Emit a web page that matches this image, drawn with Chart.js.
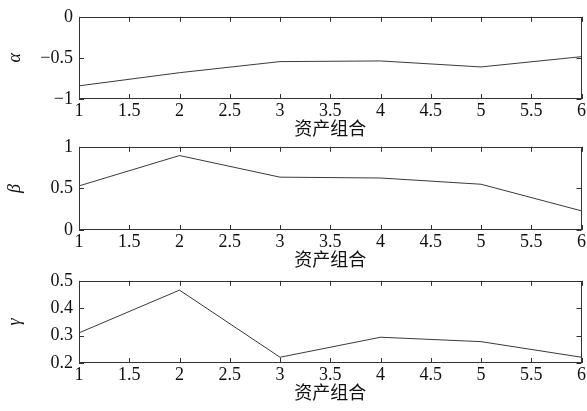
<!DOCTYPE html>
<html>
<head>
<meta charset="utf-8">
<script src="https://cdn.jsdelivr.net/npm/chart.js@4"></script>
<style>
  body { margin: 0; background: #fff; }
  #wrap { position: relative; width: 587px; height: 411px; }
  canvas { position: absolute; left: 0; }
</style>
</head>
<body>
<div id="wrap">
  <canvas id="c1" width="587" height="139" style="top:0px"></canvas>
  <canvas id="c2" width="587" height="140" style="top:130px"></canvas>
  <canvas id="c3" width="587" height="139" style="top:264px"></canvas>
</div>
<script>
// asset portfolios 1..6
var portfolios = [1, 2, 3, 4, 5, 6];
var alphaVals = [-0.84, -0.68, -0.545, -0.537, -0.61, -0.485];
var betaVals = [0.53, 0.895, 0.635, 0.625, 0.55, 0.23];
var gammaVals = [0.31, 0.466, 0.221, 0.294, 0.278, 0.221];
var xLabel = '资产组合';

var serif = '"Liberation Serif", "Times New Roman", serif';
var lineCol = '#3a3a3a';

function fmt(v) {
  return String(+v.toFixed(2)).replace('-', '\u2212');
}

// box around plot + inward ticks on all four sides (matlab style)
var boxTicks = {
  id: 'boxTicks',
  afterDatasetsDraw: function(chart) {
    var ctx = chart.ctx, a = chart.chartArea;
    var x = chart.scales.x, y = chart.scales.y;
    ctx.save();
    ctx.strokeStyle = '#333';
    ctx.lineWidth = 1;
    ctx.strokeRect(Math.round(a.left) + 0.5, Math.round(a.top) + 0.5,
      Math.round(a.width) - 1, Math.round(a.height) - 1);
    ctx.beginPath();
    x.ticks.forEach(function(t) {
      var px = Math.round(x.getPixelForValue(t.value)) + 0.5;
      ctx.moveTo(px, a.bottom); ctx.lineTo(px, a.bottom - 5);
      ctx.moveTo(px, a.top); ctx.lineTo(px, a.top + 5);
    });
    y.ticks.forEach(function(t) {
      var py = Math.round(y.getPixelForValue(t.value)) + 0.5;
      ctx.moveTo(a.left, py); ctx.lineTo(a.left + 5, py);
      ctx.moveTo(a.right, py); ctx.lineTo(a.right - 5, py);
    });
    ctx.stroke();
    ctx.restore();
  }
};

function makeChart(id, vals, yName, yMin, yMax, yStep) {
  var pts = portfolios.map(function(p, i) { return {x: p, y: vals[i]}; });
  return new Chart(document.getElementById(id), {
    type: 'line',
    data: {
      datasets: [{
        data: pts,
        borderColor: lineCol,
        borderWidth: 1,
        pointRadius: 0,
        tension: 0,
        fill: false
      }]
    },
    options: {
      responsive: false,
      animation: false,
      layout: { padding: { top: 14, right: 5, left: 0, bottom: 0 } },
      plugins: { legend: { display: false }, tooltip: { enabled: false } },
      scales: {
        x: {
          type: 'linear',
          min: 1, max: 6,
          afterFit: function(s) { s.height = 40; },
          grid: { drawOnChartArea: false, drawTicks: false },
          border: { display: false },
          ticks: {
            stepSize: 0.5,
            padding: 1,
            color: '#111',
            font: { family: serif, size: 18 },
            maxRotation: 0,
            autoSkip: false,
            callback: function(v) { return fmt(v); }
          },
          title: {
            display: true,
            text: xLabel,
            color: '#111',
            padding: { top: 0, bottom: 0 },
            font: { family: '"Noto Sans CJK SC", sans-serif', size: 18 }
          }
        },
        y: {
          min: yMin, max: yMax,
          afterFit: function(s) { s.width = 79; },
          grid: { drawOnChartArea: false, drawTicks: false },
          border: { display: false },
          ticks: {
            stepSize: yStep,
            padding: 6,
            color: '#111',
            font: { family: serif, size: 18 },
            callback: function(v) { return fmt(v); }
          },
          title: {
            display: true,
            text: yName,
            color: '#111',
            padding: { top: 4, bottom: 0 },
            font: { family: serif, size: 18, style: 'italic' }
          }
        }
      }
    },
    plugins: [boxTicks]
  });
}

makeChart('c1', alphaVals, '\u03b1', -1, 0, 0.5);
makeChart('c2', betaVals, '\u03b2', 0, 1, 0.5);
makeChart('c3', gammaVals, '\u03b3', 0.2, 0.5, 0.1);
</script>
</body>
</html>
